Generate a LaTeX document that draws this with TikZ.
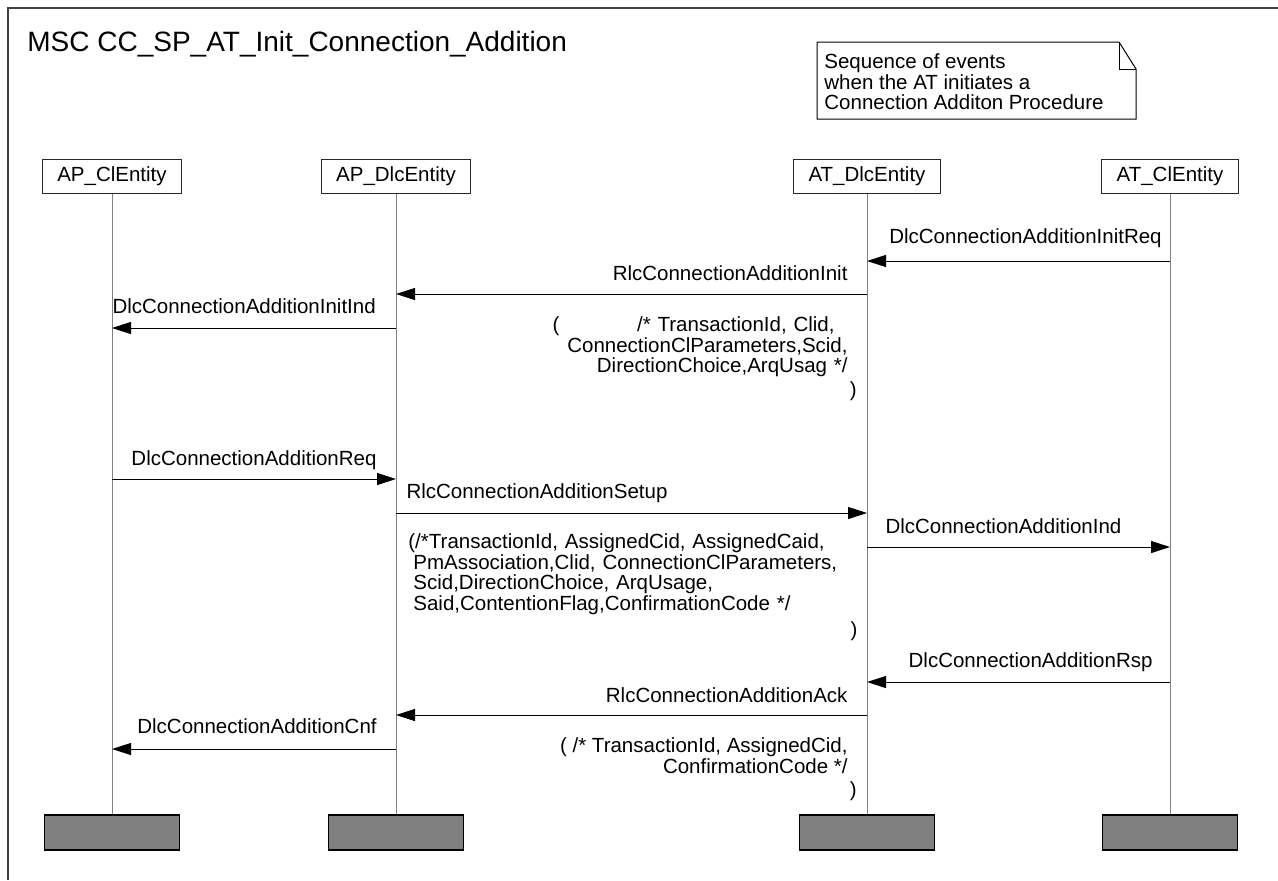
\documentclass[tikz,border=0pt]{standalone}
\usepackage{fontspec}
\setmainfont{Liberation Sans}
\usetikzlibrary{arrows.meta, positioning, calc}

\begin{document}
\begin{tikzpicture}[
  x=0.5pt, y=-0.5pt,
  every node/.style = {font=\fontsize{10.25}{10.4}\selectfont},
  entity/.style = {draw=black!85, line width=0.5pt, fill=white,
                   inner xsep=7.5pt, inner ysep=0pt, minimum height=17pt},
  endbar/.style = {draw=black, line width=0.6pt, fill=gray,
                   minimum width=67.5pt, minimum height=17.5pt, inner sep=0pt},
  life/.style   = {line width=0.5pt, gray},
  msg/.style    = {line width=0.5pt, black,
                   -{Triangle[length=9.5pt,width=6pt]}},
  lbl/.style    = {inner sep=0pt, yshift=7.5pt},
  params/.style = {inner sep=0pt},
]
\useasboundingbox (0,0) rectangle (1278,880);

% Lifeline x-positions
\def\xA{112}   % AP_ClEntity
\def\xB{396}   % AP_DlcEntity
\def\xC{867}   % AT_DlcEntity
\def\xD{1170}  % AT_ClEntity

% Message rows
\def\yA{261}
\def\yB{294}
\def\yC{328}
\def\yD{479}
\def\yE{513}
\def\yF{547}
\def\yG{682}
\def\yH{715}
\def\yI{749}

% ── FRAME, TITLE, NOTE ──────────────────────────────────────────────────────
\draw[line width=0.6pt, black!75] (1278,8) -| (8,880);

\node[anchor=base west, inner sep=0pt, font=\fontsize{14}{16}\selectfont]
  (title) at (27,51) {MSC CC\_SP\_AT\_Init\_Connection\_Addition};

\node[anchor=north west, inner sep=0pt, align=left] (note) at (824,53)
  {Sequence of events\\when the AT initiates a\\Connection Additon Procedure};
\draw[line width=0.5pt] (817,42) -- (1119,42) -- (1136,69)
                        -- (1136,119) -- (817,119) -- cycle;
\draw[line width=0.5pt] (1119,42) -- (1119,69) -- (1136,69);

% ── INSTANCES ───────────────────────────────────────────────────────────────
\node[entity] (apcl)  at (\xA,176) {AP\_ClEntity};
\node[entity] (apdlc) at (\xB,176) {AP\_DlcEntity};
\node[entity] (atdlc) at (\xC,176) {AT\_DlcEntity};
\node[entity] (atcl)  at (\xD,176) {AT\_ClEntity};

\node[endbar] (apcl-end)  at (\xA,832.5) {};
\node[endbar] (apdlc-end) at (\xB,832.5) {};
\node[endbar] (atdlc-end) at (\xC,832.5) {};
\node[endbar] (atcl-end)  at (\xD,832.5) {};

\foreach \n in {apcl, apdlc, atdlc, atcl}
  \draw[life] (\n.south) -- (\n-end.north);

% ── INIT ────────────────────────────────────────────────────────────────────
\draw[msg] (atcl |- 0,\yA) -- (atdlc |- 0,\yA)
  node[lbl, midway, anchor=base, xshift=3.5pt, yshift=1.5pt]
  {DlcConnectionAdditionInitReq};

\draw[msg] (atdlc |- 0,\yB) -- (apdlc |- 0,\yB)
  node[lbl, pos=0, anchor=base east, xshift=-9.5pt, yshift=-0.5pt]
  {RlcConnectionAdditionInit};
\node[params, anchor=north east, text width=152pt, align=right]
  (initPar) at (\xC-10,\yB+22)
  {(\hfill/* TransactionId, Clid,\hspace*{11pt}\mbox{}\\
   ConnectionClParameters,Scid,\hspace*{4.5pt}\mbox{}\\
   DirectionChoice,ArqUsag */\hspace*{4.5pt}\mbox{}\\[1.5pt]
   )};

\draw[msg] (apdlc |- 0,\yC) -- (apcl |- 0,\yC)
  node[lbl, pos=1, anchor=base west]
  {DlcConnectionAdditionInitInd};

% ── SETUP ───────────────────────────────────────────────────────────────────
\draw[msg] (apcl |- 0,\yD) -- (apdlc |- 0,\yD)
  node[lbl, midway, anchor=base, yshift=-0.5pt]
  {DlcConnectionAdditionReq};

\draw[msg] (apdlc |- 0,\yE) -- (atdlc |- 0,\yE)
  node[lbl, pos=0, anchor=base west, xshift=5pt]
  {RlcConnectionAdditionSetup};
\node[params, anchor=north west, text width=224.5pt, align=left]
  (setupPar) at (\xB+12,\yE+20)
  {(/*TransactionId, AssignedCid, AssignedCaid,\\
   \hspace*{2.5pt}PmAssociation,Clid, ConnectionClParameters,\\
   \hspace*{2.5pt}Scid,DirectionChoice, ArqUsage,\\
   \hspace*{2.5pt}Said,ContentionFlag,ConfirmationCode */\\[2.5pt]
   \hspace*{\fill})};

\draw[msg] (atdlc |- 0,\yF) -- (atcl |- 0,\yF)
  node[lbl, pos=0, anchor=base west, xshift=9pt, yshift=-0.5pt]
  {DlcConnectionAdditionInd};

% ── RESPONSE ────────────────────────────────────────────────────────────────
\draw[msg] (atcl |- 0,\yG) -- (atdlc |- 0,\yG)
  node[lbl, pos=0, anchor=base east, xshift=-8.5pt]
  {DlcConnectionAdditionRsp};

\draw[msg] (atdlc |- 0,\yH) -- (apdlc |- 0,\yH)
  node[lbl, pos=0, anchor=base east, xshift=-9.5pt, yshift=-1pt]
  {RlcConnectionAdditionAck};
\node[params, anchor=north east, align=right]
  (ackPar) at (\xC-10,\yH+22)
  {( /* TransactionId, AssignedCid,\hspace*{4.5pt}\mbox{}\\
   ConfirmationCode */\hspace*{4.5pt}\mbox{}\\[1.5pt]
   )};

\draw[msg] (apdlc |- 0,\yI) -- (apcl |- 0,\yI)
  node[lbl, midway, anchor=base, xshift=1.5pt, yshift=0.5pt]
  {DlcConnectionAdditionCnf};

\end{tikzpicture}
\end{document}
